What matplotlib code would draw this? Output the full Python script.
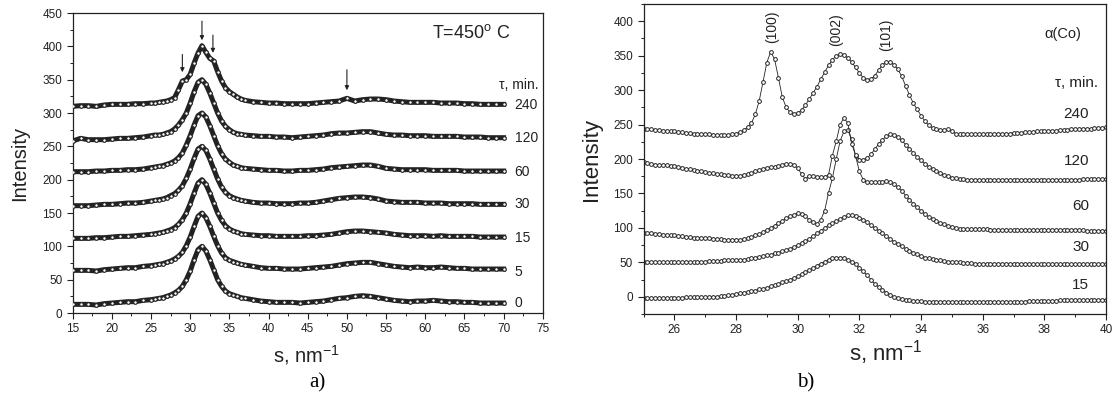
import numpy as np
import matplotlib
matplotlib.use('Agg')
import matplotlib.pyplot as plt
from matplotlib.ticker import MultipleLocator

plt.rcParams['font.family'] = ['Liberation Sans', 'DejaVu Sans']
plt.rcParams['mathtext.fontset'] = 'custom'
plt.rcParams['mathtext.rm'] = 'Liberation Sans'
plt.rcParams['mathtext.it'] = 'Liberation Sans:italic'

# ---- panel a) : T=450 C, curves offset by annealing time
s_a = np.r_[np.arange(15, 25.5, 1), np.arange(25.5, 37.5, 0.5), np.arange(38, 70.5, 1)]
times_a = ['0', '5', '15', '30', '60', '120', '240']
a_0 = [13,13,13,12,14,15,16,17,17,19,20,
       21,22,23,25,27,30,34,40,50,63,80,95,100,93,80,65,50,40,33,29,27,25,23,22,
       20,18,17,16,16,16,15,16,17,18,20,22,23,25,26,25,23,21,19,18,17,18,18,19,18,17,17,16,16,15,15,15,15]
a_5 = [64,64,64,63,65,66,67,68,68,70,71,
       72,73,74,76,78,81,85,91,101,114,130,145,150,143,130,115,101,90,83,79,77,75,73,72,
       70,68,67,67,66,66,66,67,68,69,70,72,74,75,76,76,74,72,70,69,68,69,68,68,69,68,67,67,66,66,66,66,66]
a_15 = [112,112,112,113,113,114,115,115,116,117,118,
        119,120,121,123,125,128,133,140,150,164,180,195,200,193,180,165,150,139,131,126,123,121,119,118,
        117,116,116,115,115,115,115,116,116,117,118,120,122,123,123,122,121,120,118,117,116,116,116,115,116,115,115,115,115,114,114,114,114]
a_30 = [161,161,161,162,163,163,164,165,165,166,168,
        169,170,171,173,176,179,184,191,202,216,232,246,250,244,231,216,201,189,181,176,173,171,169,168,
        166,165,165,164,164,164,165,165,166,168,170,172,173,174,174,173,171,168,167,166,166,166,165,165,165,164,164,164,164,163,163,163,163]
a_60 = [212,212,212,213,213,214,214,215,215,216,218,
        219,220,221,223,225,228,233,240,252,266,282,296,300,294,281,266,251,239,231,226,222,220,218,217,
        216,215,214,214,213,213,214,214,215,216,218,219,220,221,222,222,220,217,216,215,215,215,215,214,214,214,214,213,213,213,213,213,213]
a_120 = [258,262,260,260,260,261,262,262,263,264,266,
         267,267,268,270,272,276,282,290,300,315,332,346,350,343,330,315,300,288,280,275,271,269,268,267,
         266,265,265,264,264,263,264,265,266,267,269,270,270,271,272,272,270,268,267,267,266,266,266,265,265,265,265,264,264,264,263,263,263]
a_240 = [310,311,311,310,312,313,313,313,314,314,315,
         315,316,317,318,320,323,335,348,350,358,375,390,401,391,382,378,362,348,338,332,328,324,321,319,
         317,316,315,315,314,314,314,314,315,316,317,318,322,318,320,321,321,320,318,317,316,316,316,316,315,315,315,314,314,313,313,313,313]
curves_a = [a_0, a_5, a_15, a_30, a_60, a_120, a_240]
label_y_a = [15, 62, 112, 163, 212, 263, 312]
arrows_a = [(29.0, 392, 357), (31.5, 442, 405), (32.9, 421, 386), (50.0, 369, 330)]

# ---- panel b) : alpha(Co)
s_b = 25 + 0.125 * np.arange(121)
times_b = ['15', '30', '60', '120', '240']
b_15 = [-2,-2,-2,-2,-2,-2,-2,-2,
        -2,-2,-2,-1,-1,-1,-1,-1,
        -1,0,0,0,1,1,2,3,
        4,5,6,7,8,9,11,12,
        13,15,17,19,21,23,25,27,
        30,33,36,39,42,45,48,51,
        54,56,57,57,56,54,51,47,
        42,37,31,25,19,14,10,6,
        3,0,-2,-3,-4,-5,-6,-6,
        -6,-7,-7,-7,-7,-7,-7,-7,
        -7,-7,-7,-7,-7,-7,-7,-7,
        -7,-7,-7,-7,-7,-7,-7,-7,
        -7,-7,-7,-7,-6,-6,-6,-6,
        -6,-6,-6,-6,-5,-5,-5,-5,
        -5,-5,-5,-4,-4,-4,-4,-4,
        -4]
b_30 = [50,50,50,50,50,50,50,50,
        50,50,50,51,51,51,51,51,
        51,52,52,52,52,53,53,53,
        53,54,54,55,56,57,58,59,
        60,61,63,64,66,68,70,72,
        75,78,81,84,88,92,96,100,
        104,107,110,113,116,118,118,117,
        115,112,108,104,100,96,92,88,
        84,80,77,73,70,67,64,62,
        59,57,56,55,54,53,52,51,
        51,50,50,49,49,49,48,48,
        48,48,48,48,48,48,48,48,
        48,48,48,48,48,47,47,47,
        47,47,47,47,47,47,47,47,
        47,47,47,47,47,47,47,47,
        47]
b_60 = [93,92,92,91,91,90,90,89,
        89,88,88,87,87,86,86,85,
        85,85,84,84,84,83,83,83,
        83,83,84,85,87,89,91,94,
        97,100,103,107,110,114,117,119,
        121,120,117,112,108,106,112,125,
        151,172,200,226,240,242,229,205,
        182,170,166,166,166,167,167,168,
        166,163,159,154,147,141,135,130,
        125,120,116,113,110,107,105,103,
        101,100,99,99,98,98,98,98,
        98,98,97,97,97,97,97,97,
        97,97,97,97,97,97,97,97,
        97,97,97,97,97,97,97,97,
        97,97,97,96,96,96,96,96,
        96]
b_120 = [195,194,193,192,192,191,191,190,
         190,189,187,186,185,184,183,182,
         181,180,179,178,178,177,177,176,
         176,176,177,178,180,182,184,186,
         187,188,189,190,192,193,193,191,
         187,178,171,175,175,174,174,174,
         177,205,226,250,260,252,222,206,
         199,199,201,207,214,222,228,233,
         236,235,232,227,221,215,209,203,
         198,193,189,185,182,179,177,175,
         173,172,171,171,170,170,170,170,
         170,170,170,170,170,170,170,170,
         170,170,170,170,170,170,170,170,
         170,170,170,170,170,170,170,170,
         170,170,171,171,171,171,171,171,
         171]
b_240 = [244,243,243,242,242,241,241,240,
         240,239,239,238,238,237,237,236,
         236,236,235,235,235,235,235,236,
         237,239,242,246,252,265,284,312,
         340,356,345,318,290,275,268,265,
         267,271,278,287,296,305,316,326,
         336,344,350,352,351,347,341,333,
         325,318,315,316,321,329,337,341,
         341,337,330,320,306,293,281,272,
         263,255,249,245,243,242,242,243,
         240,237,236,236,236,236,236,236,
         236,236,236,236,237,237,237,237,
         238,238,238,239,239,239,240,240,
         240,241,241,241,242,242,242,243,
         243,243,244,244,244,245,245,245,
         246]
curves_b = [b_15, b_30, b_60, b_120, b_240]
label_y_b = [17, 72, 132, 197, 265]
peaks_b = [('(100)', 29.18, 392), ('(002)', 31.25, 388), ('(101)', 32.86, 381)]

ink = '#222222'
fig = plt.figure(figsize=(11.18, 4.04), dpi=100)
axL = fig.add_axes([0.065, 0.2252, 0.4205, 0.7426])
axR = fig.add_axes([0.5756, 0.2228, 0.4137, 0.7672])

for y in curves_a:
    axL.plot(s_a, y, '-', color=ink, lw=3.6, zorder=2)
    axL.plot(s_a, y, 'o', ms=2.6, mfc='white', mec=ink, mew=0.8, zorder=3)
for t, ly in zip(times_a, label_y_a):
    axL.text(71.4, ly, t, fontsize=10, ha='left', va='center', color=ink)
for x, y0, y1 in arrows_a:
    axL.annotate('', xy=(x, y1), xytext=(x, y0),
                 arrowprops=dict(arrowstyle='-|>', color=ink, lw=0.8, mutation_scale=6))
axL.text(60.8, 420, 'T=450$^{\\mathrm{o}}$ C', fontsize=13, ha='left', va='center', color=ink)
axL.text(74.4, 342, 'τ, min.', fontsize=10, ha='right', va='center', color=ink)
axL.set_xlim(15, 75)
axL.set_ylim(0, 450)
axL.xaxis.set_major_locator(MultipleLocator(5))
axL.xaxis.set_minor_locator(MultipleLocator(2.5))
axL.yaxis.set_major_locator(MultipleLocator(50))
axL.yaxis.set_minor_locator(MultipleLocator(25))
axL.set_xlabel('s, nm$^{\\mathrm{-1}}$', fontsize=14.5, va='center', color=ink)
axL.xaxis.set_label_coords(0.497, -0.14)
axL.set_ylabel('Intensity', fontsize=14.5, va='center', color=ink)
axL.yaxis.set_label_coords(-0.113, 0.5)

for y in curves_b:
    axR.plot(s_b, y, '-o', color=ink, lw=0.6, ms=2.7, mfc='white', mec=ink, mew=0.7)
for t, ly in zip(times_b, label_y_b):
    axR.text(39.45, ly, t, fontsize=11, ha='right', va='center', color=ink)
for name, x, y in peaks_b:
    axR.text(x, y, name, fontsize=10, rotation=90, ha='center', va='center', color=ink)
axR.text(38.6, 381, 'α(Co)', fontsize=10.5, ha='center', va='center', color=ink)
axR.text(39.75, 310, 'τ, min.', fontsize=11, ha='right', va='center', color=ink)
axR.set_xlim(25, 40)
axR.set_ylim(-25, 425)
axR.xaxis.set_major_locator(MultipleLocator(2))
axR.xaxis.set_minor_locator(MultipleLocator(1))
axR.yaxis.set_major_locator(MultipleLocator(50))
axR.yaxis.set_minor_locator(MultipleLocator(25))
axR.set_yticks(np.arange(0, 401, 50))
axR.set_xlabel('s, nm$^{\\mathrm{-1}}$', fontsize=16, va='center', color=ink)
axR.xaxis.set_label_coords(0.524, -0.126)
axR.set_ylabel('Intensity', fontsize=16, va='center', color=ink)
axR.yaxis.set_label_coords(-0.1135, 0.5)

for ax in (axL, axR):
    for sp in ax.spines.values():
        sp.set_linewidth(0.9)
        sp.set_color(ink)
    ax.tick_params(which='major', direction='out', length=4, width=0.8, labelsize=8.5, colors=ink)
    ax.tick_params(which='minor', direction='out', length=2.5, width=0.7, colors=ink)

fig.text(0.2835, 0.052, 'a)', fontsize=15, family='Liberation Serif', ha='center', va='center')
fig.text(0.7205, 0.052, 'b)', fontsize=15, family='Liberation Serif', ha='center', va='center')

fig.savefig('out.png', dpi=100)
